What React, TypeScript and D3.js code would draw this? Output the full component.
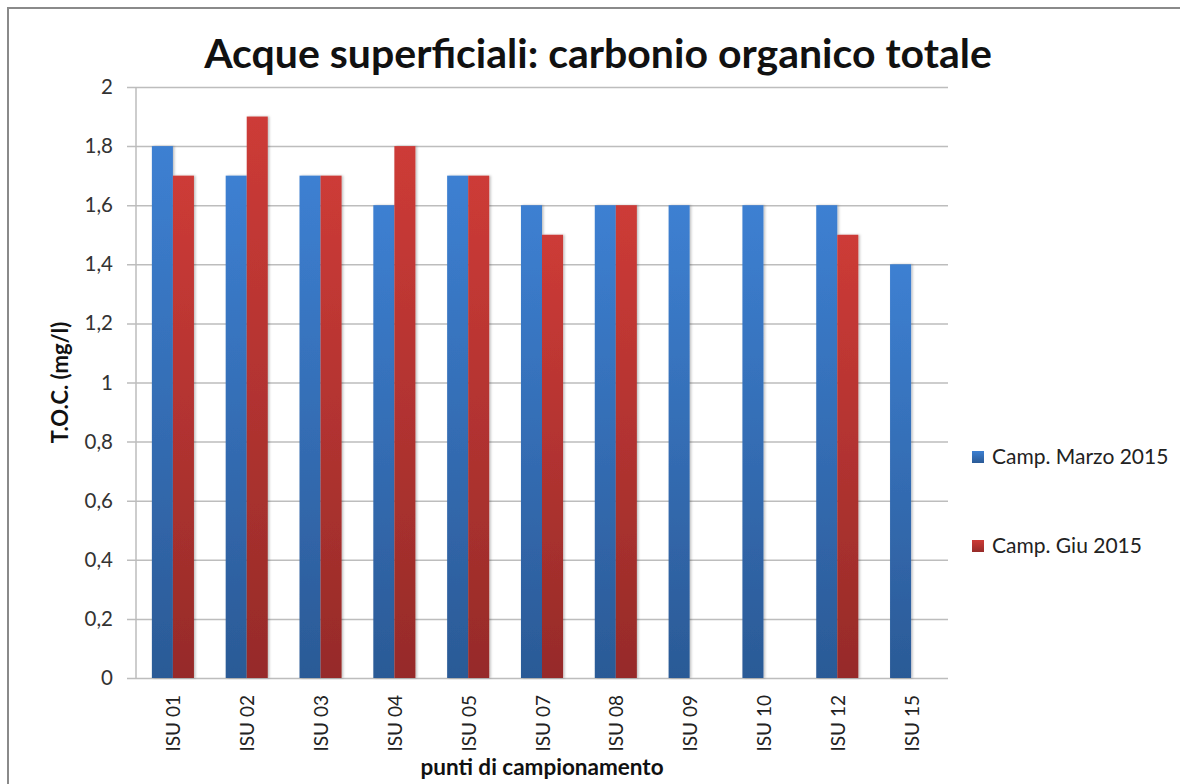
import React, { useEffect, useRef } from "react";
import * as d3 from "d3";

const categories = ["ISU 01", "ISU 02", "ISU 03", "ISU 04", "ISU 05", "ISU 07", "ISU 08", "ISU 09", "ISU 10", "ISU 12", "ISU 15"];
const marzo = [1.8, 1.7, 1.7, 1.6, 1.7, 1.6, 1.6, 1.6, 1.6, 1.6, 1.4];
const giugno = [1.7, 1.9, 1.7, 1.8, 1.7, 1.5, 1.6, null, null, 1.5, null];
const seriesNames = ["Camp. Marzo 2015", "Camp. Giu 2015"];
const yTicks = [0, 0.2, 0.4, 0.6, 0.8, 1, 1.2, 1.4, 1.6, 1.8, 2];

const W = 1180;
const H = 784;
const FONT = "Lato, 'Open Sans', sans-serif";

const App = () => {
  const ref = useRef<SVGSVGElement>(null);

  useEffect(() => {
    const svg = d3.select(ref.current);
    svg.selectAll("*").remove();

    const plot = { left: 136, right: 948, top: 87, bottom: 678 };

    const defs = svg.append("defs");
    const grads = [
      { id: "gBlue", top: "#3d80d2", bottom: "#2b5a96" },
      { id: "gRed", top: "#cd3b37", bottom: "#962b29" },
    ];
    grads.forEach((g) => {
      const lg = defs.append("linearGradient").attr("id", g.id).attr("x1", 0).attr("y1", 0).attr("x2", 0).attr("y2", 1);
      lg.append("stop").attr("offset", "0%").attr("stop-color", g.top);
      lg.append("stop").attr("offset", "100%").attr("stop-color", g.bottom);
    });
    const shadow = defs.append("filter").attr("id", "shadow").attr("x", "-20%").attr("width", "150%");
    shadow.append("feDropShadow").attr("dx", 1.5).attr("dy", 0).attr("stdDeviation", 1.2).attr("flood-color", "#000").attr("flood-opacity", 0.25);

    svg.append("rect").attr("width", W).attr("height", H).attr("fill", "#fff");

    // chart frame
    svg.append("path")
      .attr("d", `M8,${H} V8 H${W}`)
      .attr("fill", "none")
      .attr("stroke", "#8a8a8a")
      .attr("stroke-width", 2);

    const x = d3.scaleBand<string>().domain(categories).range([plot.left, plot.right]).paddingInner(0.43).paddingOuter(0.215);
    const xs = d3.scaleBand<number>().domain([0, 1]).range([0, x.bandwidth()]);
    const y = d3.scaleLinear().domain([0, 2]).range([plot.bottom, plot.top]);

    // gridlines + y axis
    const yAxis = d3.axisLeft(y)
      .tickValues(yTicks)
      .tickSize(-(plot.right - plot.left + 9))
      .tickPadding(14)
      .tickFormat((d) => d3.format("~g")(d as number).replace(".", ","));
    const gy = svg.append("g").attr("transform", `translate(${plot.left - 9},0)`).call(yAxis);
    gy.select(".domain").remove();
    gy.selectAll(".tick line").attr("stroke", "#bdbdbd").attr("stroke-width", 1.5);
    gy.selectAll(".tick text")
      .attr("font-family", FONT)
      .attr("font-size", 20.5)
      .attr("fill", "#333");

    svg.append("line")
      .attr("x1", plot.left).attr("x2", plot.left)
      .attr("y1", plot.top).attr("y2", plot.bottom)
      .attr("stroke", "#bdbdbd").attr("stroke-width", 1.5);

    // bars
    const series = [marzo, giugno];
    series.forEach((vals, si) => {
      svg.append("g")
        .selectAll("rect")
        .data(vals.map((v, i) => ({ v, c: categories[i] })).filter((d) => d.v != null))
        .enter()
        .append("rect")
        .attr("x", (d) => (x(d.c) as number) + (xs(si) as number))
        .attr("width", xs.bandwidth())
        .attr("y", (d) => y(d.v as number))
        .attr("height", (d) => y(0) - y(d.v as number))
        .attr("fill", si === 0 ? "url(#gBlue)" : "url(#gRed)")
        .attr("filter", "url(#shadow)");
    });

    // x labels
    svg.append("g")
      .selectAll("text")
      .data(categories)
      .enter()
      .append("text")
      .attr("transform", (d) => `translate(${(x(d) as number) + x.bandwidth() / 2 + 7.5},${plot.bottom + 17}) rotate(-90)`)
      .attr("text-anchor", "end")
      .attr("font-family", FONT)
      .attr("font-size", 19)
      .attr("fill", "#222")
      .text((d) => d);

    // titles
    svg.append("text")
      .attr("x", 598).attr("y", 68)
      .attr("text-anchor", "middle")
      .attr("font-family", FONT)
      .attr("font-weight", "bold")
      .attr("font-size", 41)
      .attr("fill", "#111")
      .text("Acque superficiali: carbonio organico totale");

    svg.append("text")
      .attr("transform", `translate(${68},${(plot.top + plot.bottom) / 2}) rotate(-90)`)
      .attr("text-anchor", "middle")
      .attr("font-family", FONT)
      .attr("font-weight", "bold")
      .attr("font-size", 22)
      .attr("fill", "#111")
      .text("T.O.C. (mg/l)");

    svg.append("text")
      .attr("x", 542).attr("y", 775)
      .attr("text-anchor", "middle")
      .attr("font-family", FONT)
      .attr("font-weight", "bold")
      .attr("font-size", 22.5)
      .attr("fill", "#111")
      .text("punti di campionamento");

    // legend
    const legend = svg.append("g");
    seriesNames.forEach((name, i) => {
      const ly = 457 + i * 89;
      legend.append("rect")
        .attr("x", 972).attr("y", ly - 6)
        .attr("width", 12).attr("height", 12)
        .attr("fill", i === 0 ? "url(#gBlue)" : "url(#gRed)");
      legend.append("text")
        .attr("x", 992).attr("y", ly + 7)
        .attr("font-family", FONT)
        .attr("font-size", 21)
        .attr("fill", "#222")
        .text(name);
    });
  }, []);

  return (
    <svg
      ref={ref}
      width={W}
      height={H}
      style={{ position: "absolute", left: 0, top: 0 }}
    />
  );
};

export default App;
